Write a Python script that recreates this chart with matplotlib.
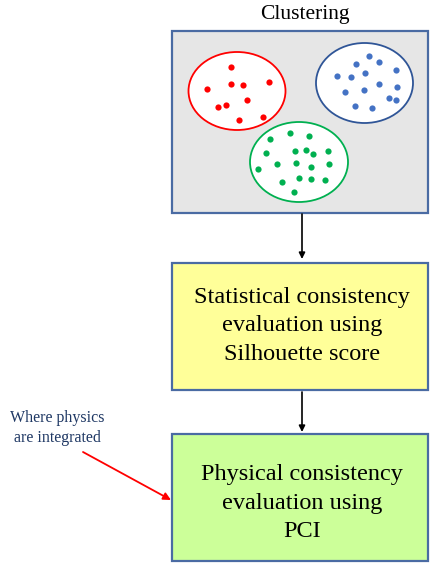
import matplotlib.pyplot as plt
from matplotlib.patches import Ellipse, Rectangle

# cluster points (pixel positions inside the clustering panel)
red_x = [231, 207, 231, 243, 269, 247, 226, 218, 239, 263]
red_y = [67, 89, 84, 85, 82, 100, 105, 107, 120, 117]
blue_x = [369, 379, 356, 396, 337, 351, 365, 379, 397, 345, 364, 389, 396, 355, 372]
blue_y = [56, 62, 64, 70, 76, 77, 73, 84, 87, 92, 90, 98, 100, 106, 108]
green_x = [290, 270, 309, 266, 295, 306, 313, 328, 258, 277, 296, 311, 329, 282, 299, 311, 325, 294]
green_y = [133, 139, 136, 153, 151, 150, 154, 151, 169, 164, 163, 167, 164, 182, 178, 179, 180, 192]

title = "Clustering"
step_labels = [
    "Statistical consistency\nevaluation using\nSilhouette score",
    "Physical consistency\nevaluation using\nPCI",
]
note = "Where physics\nare integrated"

border = "#4A6BA3"
serif = ["Liberation Serif", "DejaVu Serif"]

fig = plt.figure(figsize=(4.3, 5.63), dpi=100)
ax = fig.add_axes([0, 0, 1, 1])
ax.set_xlim(0, 430)
ax.set_ylim(563, 0)
ax.axis("off")

# clustering panel
ax.add_patch(Rectangle((172, 31), 256, 182, facecolor="#E6E6E6", edgecolor=border, lw=1.6))
ax.text(305, 15, title, ha="center", va="center", fontsize=15.5, family=serif)

clusters = [
    ((237, 91), 97, 78, "#FF0000", "#FF0000", red_x, red_y),
    ((364.5, 83), 97, 80, "#2F5597", "#4472C4", blue_x, blue_y),
    ((299, 162), 98, 80, "#00B050", "#00B050", green_x, green_y),
]
for center, w, h, edge, dot, xs, ys in clusters:
    ax.add_patch(Ellipse(center, w, h, facecolor="white", edgecolor=edge, lw=1.3))
    ax.scatter(xs, ys, s=20, color=dot, zorder=3, linewidths=0)

# evaluation boxes
ax.add_patch(Rectangle((172, 263), 256, 127, facecolor="#FFFF99", edgecolor=border, lw=1.6))
ax.add_patch(Rectangle((172, 434), 256, 127, facecolor="#CCFF99", edgecolor=border, lw=1.6))
ax.text(302, 326, step_labels[0], ha="center", va="center", fontsize=17.5, family=serif,
        linespacing=1.48)
ax.text(302, 503, step_labels[1], ha="center", va="center", fontsize=17.5, family=serif,
        linespacing=1.48)

# flow arrows
for y0, y1 in [(214, 259), (392, 432)]:
    ax.annotate("", xy=(302, y1), xytext=(302, y0),
                arrowprops=dict(arrowstyle="-|>", color="black", lw=1.2,
                                mutation_scale=9, shrinkA=0, shrinkB=0))

# side note
ax.text(57, 428, note, ha="center", va="center", fontsize=11.5, family=serif,
        color="#1F3864", linespacing=1.27)
ax.annotate("", xy=(171, 500), xytext=(83, 452),
            arrowprops=dict(arrowstyle="-|>", color="#FF0000", lw=1.3,
                            mutation_scale=11, shrinkA=0, shrinkB=0))

fig.savefig("out.png", dpi=100)
plt.close(fig)
